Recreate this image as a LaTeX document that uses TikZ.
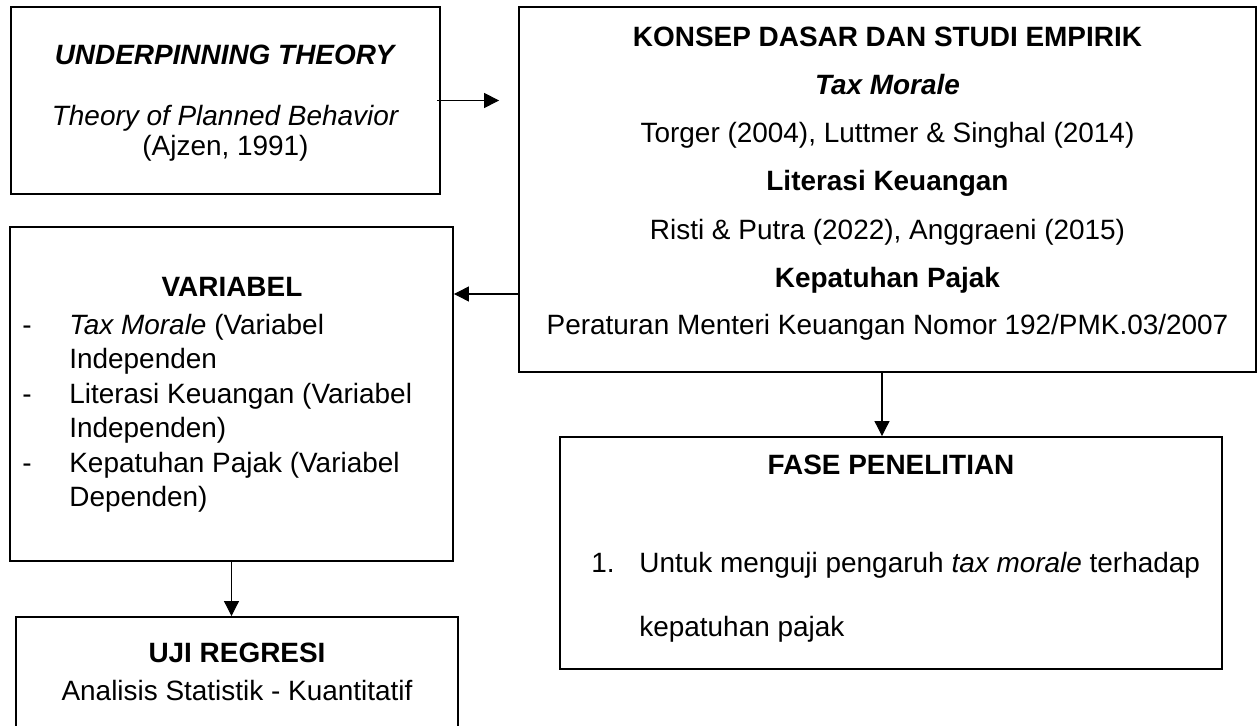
\documentclass[tikz,border=0pt]{standalone}
\usepackage{fontspec}
\setmainfont{Liberation Sans}
\usetikzlibrary{arrows.meta}

\begin{document}
\begin{tikzpicture}[x=0.02cm,y=-0.02cm]
            \tikzstyle{box}=[draw,line width=1.1pt,inner sep=0pt]
            \tikzstyle{txt}=[inner sep=0pt,text height=0.75em,text depth=0.22em,yshift=-0.09cm,font=\fontsize{15.9}{18}\selectfont]
            \tikzstyle{arr}=[line width=0.6pt,-{Triangle[length=0.3cm,width=0.3cm]}]
            \useasboundingbox (0,0) rectangle (1259,726);
            \node[box,minimum width=8.58cm,minimum height=3.74cm] (theory) at (225.5,100.5) {};
            \node[box,minimum width=14.74cm,minimum height=7.3cm] (konsep) at (887.5,189.5) {};
            \node[box,minimum width=8.86cm,minimum height=6.68cm] (variabel) at (231.5,394) {};
            \node[box,minimum width=8.84cm,minimum height=2.46cm] (uji) at (237,678.5) {};
            \node[box,minimum width=13.24cm,minimum height=4.64cm] (fase) at (891,553) {};
            \node[txt] (theoryA) at (225.5,55) {\textbf{\textit{UNDERPINNING THEORY}}};
            \node[txt] (theoryB) at (225.5,116) {\textit{Theory of Planned Behavior}};
            \node[txt] (theoryC) at (225.5,146) {(Ajzen, 1991)};
            \node[txt] (konsepA) at (887.5,37) {\textbf{KONSEP DASAR DAN STUDI EMPIRIK}};
            \node[txt] (konsepB) at (887.5,85) {\textbf{\textit{Tax Morale}}};
            \node[txt] (konsepC) at (887.5,133) {Torger (2004), Luttmer \& Singhal (2014)};
            \node[txt] (konsepD) at (887.5,181) {\textbf{Literasi Keuangan}};
            \node[txt] (konsepE) at (887.5,230) {Risti \& Putra (2022), Anggraeni (2015)};
            \node[txt] (konsepF) at (887.5,278) {\textbf{Kepatuhan Pajak}};
            \node[txt] (konsepG) at (887.5,325) {Peraturan Menteri Keuangan Nomor 192/PMK.03/2007};
            \node[txt] (variabelA) at (232,287) {\textbf{VARIABEL}};
            \foreach \y in {325,394,463}
                \node[txt,anchor=west] at (22,\y) {-};
            \node[txt,anchor=west] (variabelB) at (69,325) {\textit{Tax Morale} (Variabel};
            \node[txt,anchor=west] (variabelC) at (69,359) {Independen};
            \node[txt,anchor=west] (variabelD) at (69,394) {Literasi Keuangan (Variabel};
            \node[txt,anchor=west] (variabelE) at (69,428) {Independen)};
            \node[txt,anchor=west] (variabelF) at (69,463) {Kepatuhan Pajak (Variabel};
            \node[txt,anchor=west] (variabelG) at (69,497) {Dependen)};
            \node[txt] (ujiA) at (237,653) {\textbf{UJI REGRESI}};
            \node[txt] (ujiB) at (237,691) {Analisis Statistik - Kuantitatif};
            \node[txt] (faseA) at (891,465) {\textbf{FASE PENELITIAN}};
            \node[txt,anchor=west] (faseB) at (591,563) {1.};
            \node[txt,anchor=west] (faseC) at (639,563) {Untuk menguji pengaruh \textit{tax morale} terhadap};
            \node[txt,anchor=west] (faseD) at (639,627) {kepatuhan pajak};
            \draw[arr,shorten >=0.38cm] ([xshift=-0.08cm]theory.east) -- (theory.east -| konsep.west);
            \path (konsep.west) ++(0,104.5) coordinate (kv);
            \draw[arr] (kv) -- (kv -| variabel.east);
            \draw[arr] (variabel.south) -- (variabel.south |- uji.north);
            \draw[arr] ([xshift=-0.11cm]konsep.south) -- ([xshift=-0.11cm]konsep.south |- fase.north);
        \end{tikzpicture}
\end{document}
